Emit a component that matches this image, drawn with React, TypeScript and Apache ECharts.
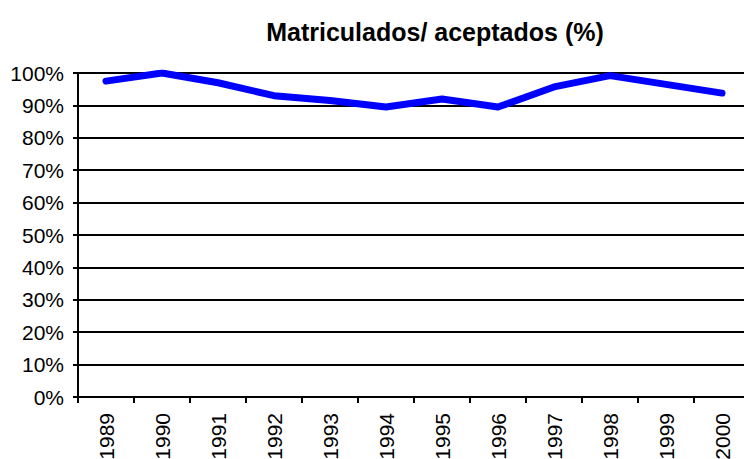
import React, { useEffect, useRef } from "react";
import * as echarts from "echarts";

const years = ["1989", "1990", "1991", "1992", "1993", "1994", "1995", "1996", "1997", "1998", "1999", "2000"];
const matriculados = [97.5, 100, 97, 93, 91.5, 89.5, 92, 89.5, 95.7, 99.2, 96.5, 93.8];
const titleText = "Matriculados/ aceptados (%)";

export default function App() {
  const ref = useRef<HTMLDivElement>(null);
  useEffect(() => {
    const chart = echarts.init(ref.current!, null, { renderer: "svg" });
    const font = "Liberation Sans, Arial, sans-serif";
    chart.setOption({
      animation: false,
      backgroundColor: "#fff",
      title: {
        text: titleText,
        left: 430,
        top: 14,
        textAlign: "center",
        textStyle: { fontFamily: font, fontWeight: "bold", fontSize: 25, color: "#000" },
      },
      grid: { left: 78, top: 73, bottom: 62, right: -6, outerBoundsMode: "none", containLabel: false },
      xAxis: {
        type: "category",
        data: years,
        boundaryGap: true,
        axisLine: { lineStyle: { color: "#000", width: 2 } },
        axisTick: { show: true, length: 6, lineStyle: { color: "#000", width: 2 } },
        axisLabel: { rotate: 90, margin: 16, fontFamily: font, fontSize: 21, color: "#000", interval: 0 },
        splitLine: { show: false },
      },
      yAxis: {
        type: "value",
        min: 0,
        max: 100,
        interval: 10,
        axisLine: { show: true, lineStyle: { color: "#000", width: 2 } },
        axisTick: { show: true, length: 5, lineStyle: { color: "#000", width: 2 } },
        axisLabel: { formatter: "{value}%", margin: 14, fontFamily: font, fontSize: 21, color: "#000" },
        splitLine: { show: true, lineStyle: { color: "#000", width: 2 } },
      },
      series: [
        {
          type: "line",
          data: matriculados,
          symbol: "none",
          lineStyle: { color: "#0000FF", width: 7, cap: "round", join: "round" },
        },
      ],
    });
    return () => chart.dispose();
  }, []);
  return <div ref={ref} style={{ width: 744, height: 459, position: "absolute", left: 0, top: 0 }} />;
}
